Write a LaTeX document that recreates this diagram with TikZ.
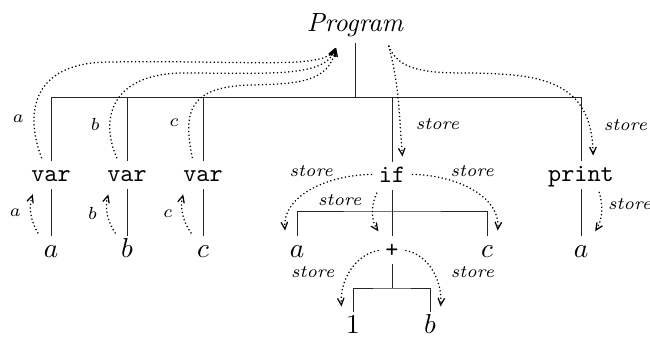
\documentclass[tikz,border=0pt]{standalone}
\usetikzlibrary{arrows.meta}

\begin{document}
\begin{tikzpicture}[
  x=0.4pt, y=-0.4pt,
  tn/.style={inner sep=1.5pt, text height=1.6ex, text depth=.3ex, anchor=base},
  kw/.style={tn, font=\ttfamily},
  lf/.style={tn, font=\fontsize{11}{13}\selectfont},
  lbl/.style={font=\scriptsize\itshape, inner sep=1pt},
  branch/.style={line width=.4pt, black!85},
  flow/.style={densely dotted, line width=.5pt, -{Straight Barb[length=2.8pt,width=2.6pt]},
    shorten >=2pt, shorten <=1pt},
]
  \useasboundingbox (0,0) rectangle (650,338);

  % tree nodes
  \node[tn, font=\fontsize{10.5}{13}\selectfont\itshape, inner ysep=3pt] (prog) at (355,32) {Program};
  \node[kw] (va) at (51,182) {var};
  \node[kw] (vb) at (127,182) {var};
  \node[kw] (vc) at (203,182) {var};
  \node[kw] (ifn) at (392,183) {if};
  \node[kw] (pr) at (581,182) {print};
  \node[lf] (la) at (51,257) {$a$};
  \node[lf] (lb) at (127,257) {$b$};
  \node[lf] (lc) at (203,257) {$c$};
  \node[lf] (ia) at (297,257) {$a$};
  \node[kw] (plus) at (392,257) {+};
  \node[lf] (ic) at (487,257) {$c$};
  \node[lf] (one) at (353,333) {$1$};
  \node[lf] (pb) at (430,333) {$b$};
  \node[lf] (pa) at (581,257) {$a$};

  % tree edges
  \coordinate (top) at (355,98);
  \coordinate (ifbar) at (392,212);
  \coordinate (plbar) at (392,288);
  \draw[branch] (prog) -- (top);
  \foreach \n in {va,vb,vc,ifn,pr}
    \draw[branch] (\n) |- (top);
  \foreach \n/\m in {va/la,vb/lb,vc/lc,pr/pa,ifn/plus}
    \draw[branch] (\n) -- (\m);
  \draw[branch] (ia) |- (ifbar) -| (ic);
  \draw[branch] (plus) -- (plbar);
  \draw[branch] (one) |- (plbar) -| (pb);

  % variable flow
  \draw[flow] (va.120) .. controls (25,115) and (30,62) .. node[lbl, left=3pt, pos=.3] {$a$} (110,62)
    .. controls (250,60) and (325,70) .. (prog.226);
  \draw[flow] (vb.122) .. controls (100,120) and (110,75) .. node[lbl, left=3pt, pos=.3] {$b$} (180,73)
    .. controls (270,73) and (325,78) .. (prog.226);
  \draw[flow] (vc.125) .. controls (183,112) and (188,87) .. node[lbl, left=3pt, pos=.3] {$c$} (250,85)
    .. controls (300,84) and (328,82) .. (prog.226);
  \draw[flow] (la.north west) to[bend left=25] node[lbl, left=3pt] {$a$} (va.221);
  \draw[flow] (lb.north west) to[bend left=25] node[lbl, left=3pt] {$b$} (vb.220);
  \draw[flow] (lc.north west) to[bend left=25] node[lbl, left=3pt] {$c$} (vc.218);

  % store flow
  \draw[flow] (prog.-29) to[out=-75, in=95] node[lbl, right=5pt, pos=.7] {store} (ifn.53);
  \draw[flow] (prog.-29) .. controls (398,72) and (430,73) .. (470,73)
    .. controls (540,74) and (592,80) .. node[lbl, right=5pt, pos=.83] {store} (pr.50);
  \draw[flow] (ifn.175) to[out=180, in=95] node[lbl, above left, pos=.3] {store} (ia.north west);
  \draw[flow] (ifn.5) to[out=0, in=85] node[lbl, above right, pos=.3] {store} (ic.north east);
  \draw[flow] (ifn.226) to[bend right=30] node[lbl, left=4pt, pos=.2] {store} (plus.north west);
  \draw[flow] (plus.west) to[out=190, in=95] node[lbl, left=5pt, pos=.5] {store} (one.north west);
  \draw[flow] (plus.east) to[out=-10, in=85] node[lbl, right=6pt, pos=.5] {store} (pb.north east);
  \draw[flow] (pr.-40) to[bend left=25] node[lbl, right=1.5pt, pos=.3] {store} (pa.north east);
\end{tikzpicture}
\end{document}
